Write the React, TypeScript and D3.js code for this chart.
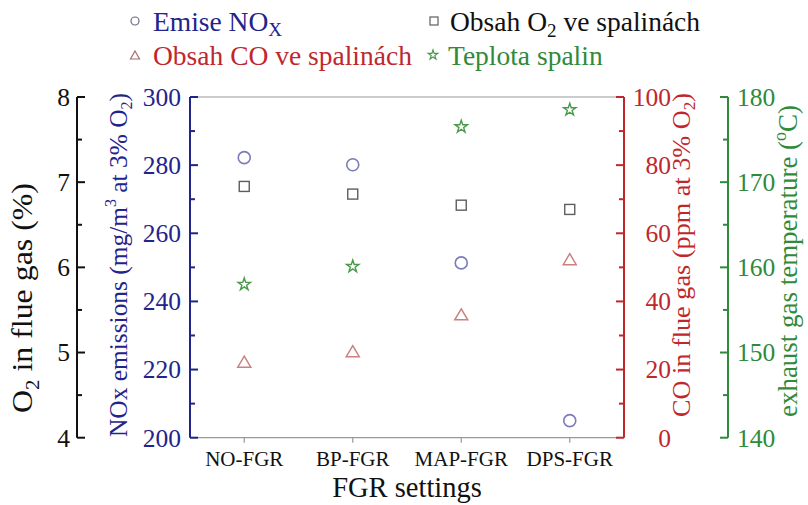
import React from "react";
import * as d3 from "d3";

const categories = ["NO-FGR", "BP-FGR", "MAP-FGR", "DPS-FGR"];
const noxValues = [282.2, 280.1, 251.3, 205.0];
const o2Values = [6.95, 6.86, 6.73, 6.68];
const coValues = [22.3, 25.4, 36.2, 52.4];
const tempValues = [158.0, 160.1, 176.5, 178.5];

const o2Ticks = [4, 5, 6, 7, 8];
const noxTicks = [200, 220, 240, 260, 280, 300];
const coTicks = [0, 20, 40, 60, 80, 100];
const tempTicks = [140, 150, 160, 170, 180];

const W = 808;
const H = 505;
const TOP = 97;
const BOT = 437.7;
const LEFT = 190;
const RIGHT = 624;
const FONT = "'Liberation Serif', 'Times New Roman', serif";

const C_NAVY = "#23238c";
const C_RED = "#c0272d";
const C_GREEN = "#2f8a3a";
const C_BLACK = "#111";
const M_BLUE = "#7b7bb8";
const M_GRAY = "#5e5e5e";
const M_RED = "#cc8080";
const M_GREEN = "#4a9a4a";

const x = d3.scalePoint<string>().domain(categories).range([LEFT, RIGHT]).padding(0.5);
const yO2 = d3.scaleLinear().domain([4, 8]).range([BOT, TOP]);
const yNox = d3.scaleLinear().domain([200, 300]).range([BOT, TOP]);
const yCo = d3.scaleLinear().domain([0, 100]).range([BOT, TOP]);
const yTemp = d3.scaleLinear().domain([140, 180]).range([BOT, TOP]);

const starPath = (R: number) => d3.symbol().type(d3.symbolStar).size((R * R) / 0.8908130915292852)()!;
const triPath = (w: number, h: number) => `M0,${-h / 2}L${w / 2},${h / 2}L${-w / 2},${h / 2}Z`;

type AxisProps = {
  scale: d3.ScaleLinear<number, number>;
  ticks: number[];
  minorStep: number;
  xPos: number;
  dir: number;
  color: string;
  labelX: number;
  anchor: string;
};

function VAxis({ scale, ticks, minorStep, xPos, dir, color, labelX, anchor }: AxisProps) {
  const [d0, d1] = scale.domain();
  const minors = d3.range(d0 + minorStep, d1, minorStep * 2);
  return (
    <g>
      <line x1={xPos} x2={xPos} y1={scale(d0)} y2={scale(d1)} stroke={color} strokeWidth={2} />
      {ticks.map((t) => (
        <line key={"M" + t} x1={xPos} x2={xPos + dir * 8} y1={scale(t)} y2={scale(t)} stroke={color} strokeWidth={2} />
      ))}
      {minors.map((t) => (
        <line key={"m" + t} x1={xPos} x2={xPos + dir * 5} y1={scale(t)} y2={scale(t)} stroke={color} strokeWidth={2} />
      ))}
      {ticks.map((t) => (
        <text key={"t" + t} x={labelX} y={scale(t)} dy="0.35em" textAnchor={anchor} fill={color} fontSize={25.5}>
          {t}
        </text>
      ))}
    </g>
  );
}

export default function App() {
  return (
    <svg width={W} height={H} style={{ position: "absolute", left: 0, top: 0, background: "#fff", fontFamily: FONT }}>
      <rect width={W} height={H} fill="#fff" />

      {/* Legend */}
      <g fontSize={27.5}>
        <circle cx={135} cy={21} r={4} fill="none" stroke="#6a6a80" strokeWidth={1.2} />
        <text x={153} y={31} fill={C_NAVY}>
          Emise NO<tspan fontSize={19} dy={5}>X</tspan>
        </text>
        <path d={triPath(9, 8)} transform="translate(135,55)" fill="none" stroke="#a07070" strokeWidth={1.2} />
        <text x={153} y={65} fill={C_RED}>Obsah CO ve spalinách</text>
        <rect x={430} y={17} width={8} height={8} fill="none" stroke={M_GRAY} strokeWidth={1.2} />
        <text x={450} y={31} fill={C_BLACK}>
          Obsah O<tspan fontSize={19} dy={6}>2</tspan>
          <tspan dy={-6}> ve spalinách</tspan>
        </text>
        <path d={starPath(5)} transform="translate(433,55)" fill="none" stroke={M_GREEN} strokeWidth={1.2} />
        <text x={448} y={65} fill={C_GREEN}>Teplota spalin</text>
      </g>

      {/* Frame */}
      <line x1={LEFT} x2={RIGHT} y1={TOP} y2={TOP} stroke="#999" strokeWidth={1.2} />
      <line x1={LEFT} x2={RIGHT} y1={BOT} y2={BOT} stroke="#999" strokeWidth={1.2} />
      {categories.map((c) => (
        <line key={"xt" + c} x1={x(c)!} x2={x(c)!} y1={BOT} y2={BOT + 5} stroke="#999" strokeWidth={1.2} />
      ))}
      {categories.map((c) => (
        <text key={"xl" + c} x={x(c)!} y={466} textAnchor="middle" fontSize={21} fill={C_BLACK}>
          {c}
        </text>
      ))}
      <text x={(LEFT + RIGHT) / 2} y={497} textAnchor="middle" fontSize={28.5} fill={C_BLACK}>
        FGR settings
      </text>

      {/* Axes */}
      <VAxis scale={yO2} ticks={o2Ticks} minorStep={0.5} xPos={77} dir={1} color={C_BLACK} labelX={70} anchor="end" />
      <VAxis scale={yNox} ticks={noxTicks} minorStep={10} xPos={LEFT} dir={1} color={C_NAVY} labelX={181} anchor="end" />
      <VAxis scale={yCo} ticks={coTicks} minorStep={10} xPos={RIGHT} dir={-1} color={C_RED} labelX={671} anchor="end" />
      <VAxis scale={yTemp} ticks={tempTicks} minorStep={5} xPos={728} dir={-1} color={C_GREEN} labelX={737} anchor="start" />

      {/* Axis titles */}
      <text transform="translate(32,413) rotate(-90)" fontSize={29} fill={C_BLACK} textLength={230} lengthAdjust="spacingAndGlyphs">
        O<tspan fontSize={19} dy={7}>2</tspan>
        <tspan dy={-7}> in flue gas (%)</tspan>
      </text>
      <text transform="translate(127,437) rotate(-90)" fontSize={25.5} fill={C_NAVY} textLength={344} lengthAdjust="spacingAndGlyphs">
        NOx emissions (mg/m<tspan fontSize={16} dy={-11}>3</tspan>
        <tspan dy={11}> at 3% O</tspan>
        <tspan fontSize={16} dy={5}>2</tspan>
        <tspan dy={-5}>)</tspan>
      </text>
      <text transform="translate(690,417) rotate(-90)" fontSize={26} fill={C_RED} textLength={324} lengthAdjust="spacingAndGlyphs">
        CO in flue gas (ppm at 3% O<tspan fontSize={17} dy={5}>2</tspan>
        <tspan dy={-5}>)</tspan>
      </text>
      <text transform="translate(797,417) rotate(-90)" fontSize={27} fill={C_GREEN} textLength={312} lengthAdjust="spacingAndGlyphs">
        exhaust gas temperature (<tspan fontSize={18} dy={-11}>o</tspan>
        <tspan dy={11}>C)</tspan>
      </text>

      {/* Markers */}
      {categories.map((c, i) => (
        <g key={"pts" + c}>
          <circle cx={x(c)!} cy={yNox(noxValues[i])} r={6} fill="none" stroke={M_BLUE} strokeWidth={1.6} />
          <rect x={x(c)! - 5} y={yO2(o2Values[i]) - 5} width={10} height={10} fill="none" stroke={M_GRAY} strokeWidth={1.4} />
          <path d={triPath(13, 11)} transform={`translate(${x(c)},${yCo(coValues[i])})`} fill="none" stroke={M_RED} strokeWidth={1.5} />
          <path d={starPath(6.5)} transform={`translate(${x(c)},${yTemp(tempValues[i])})`} fill="none" stroke={M_GREEN} strokeWidth={1.4} />
        </g>
      ))}
    </svg>
  );
}
